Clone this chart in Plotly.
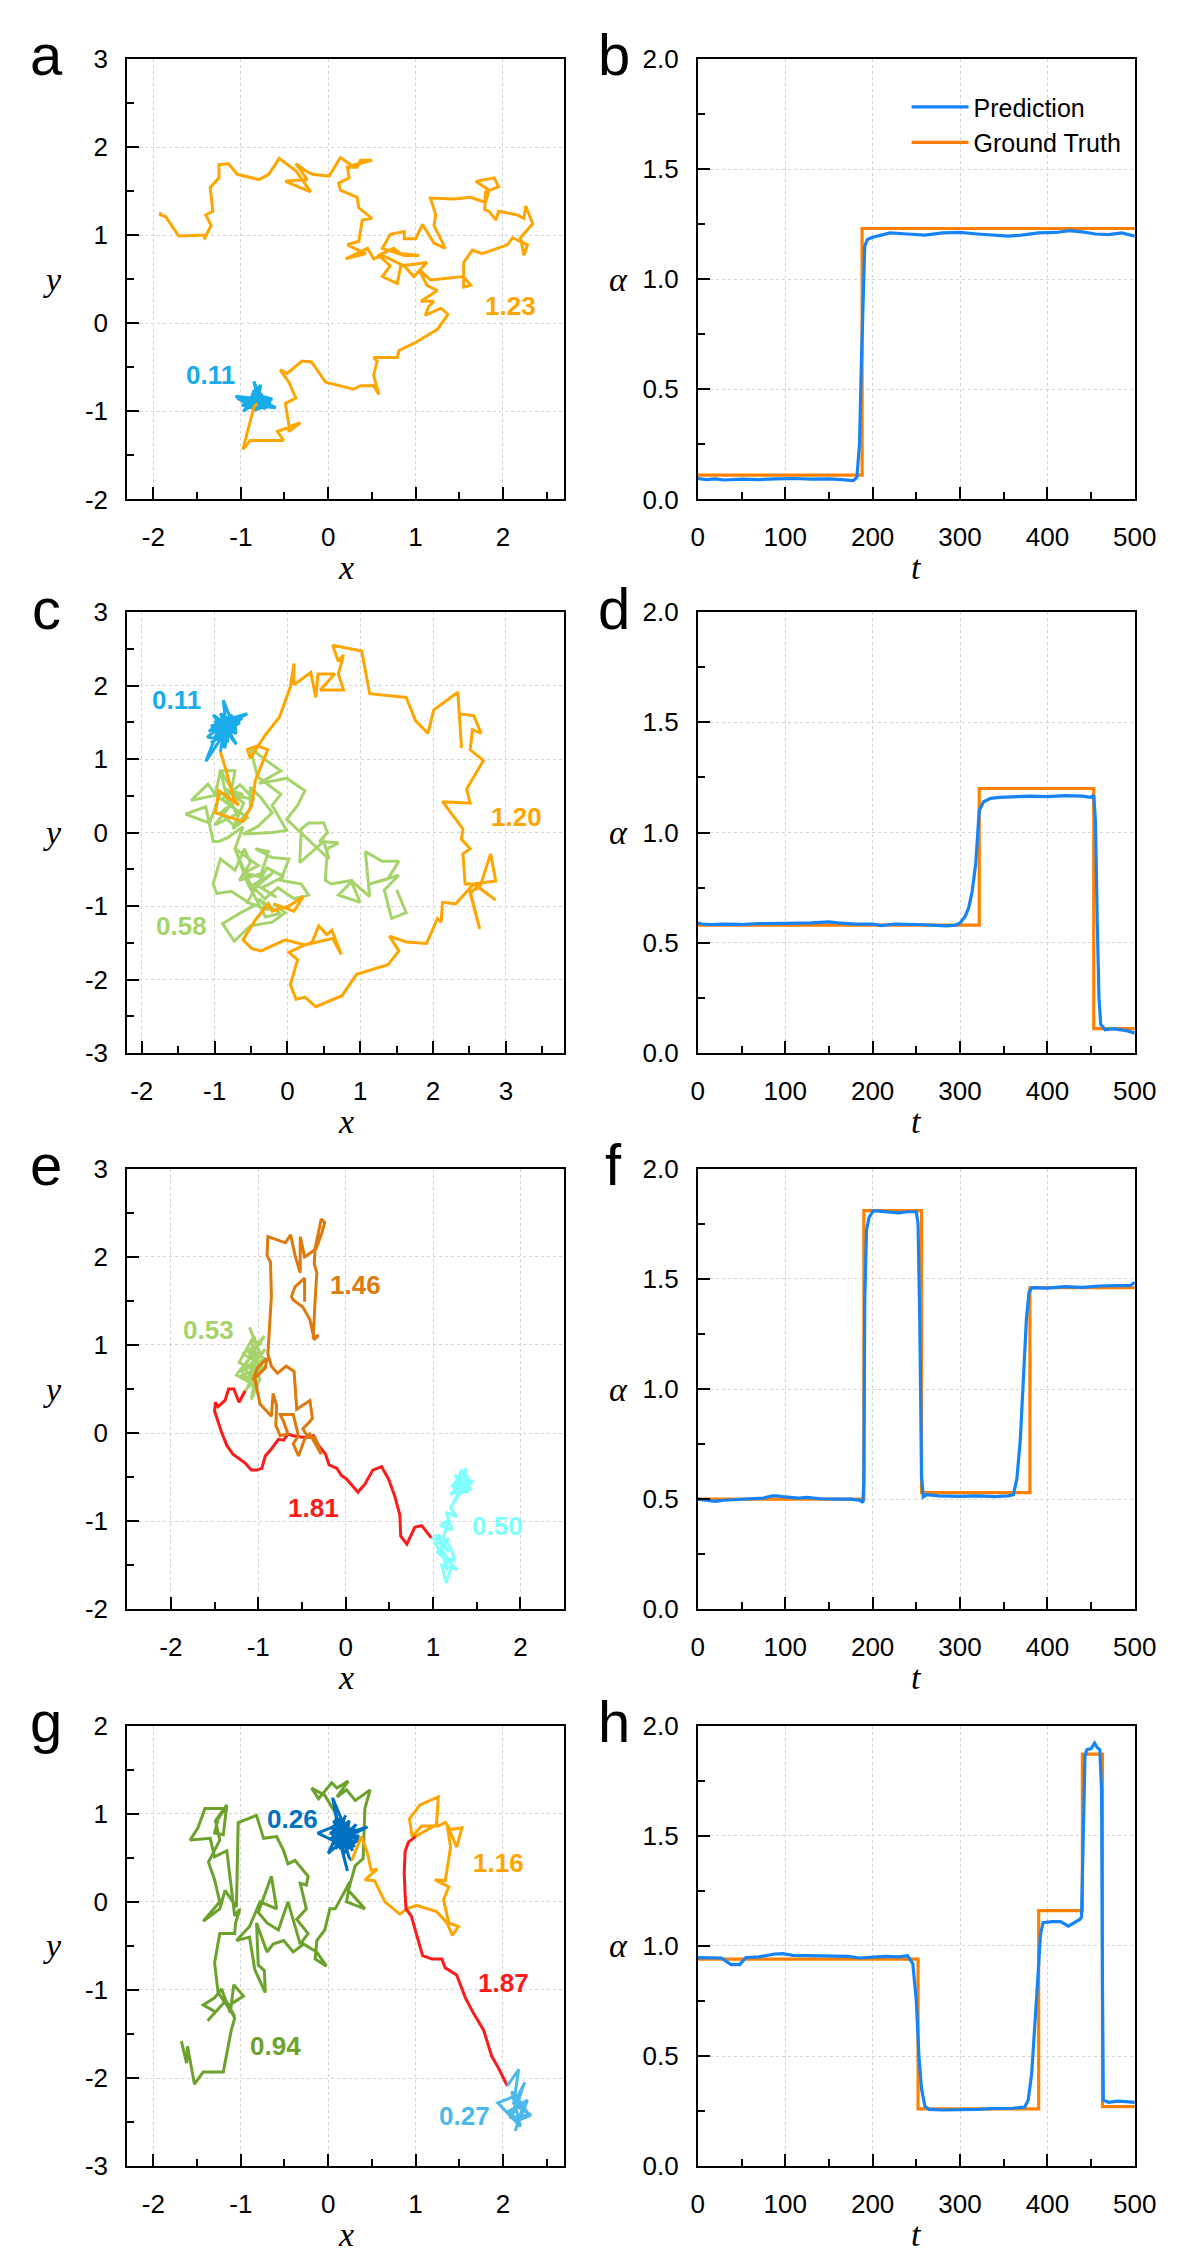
import plotly.graph_objects as go

# ---------------- data ----------------
# panel a  (alpha 0.11 -> 1.23)
a_seg_011 = [(-0.80, -0.90), (-0.92, -0.85), (-0.78, -0.95), (-0.85, -0.66), (-0.75, -0.92),
             (-1.04, -0.85), (-0.82, -0.98), (-0.70, -0.85), (-0.88, -0.93), (-0.60, -0.96),
             (-0.84, -0.82), (-0.97, -1.00), (-0.80, -0.88), (-0.72, -0.98), (-0.86, -0.76),
             (-0.66, -0.90), (-0.90, -0.96), (-0.78, -0.84), (-0.94, -0.90), (-0.76, -0.80),
             (-0.86, -0.99), (-0.68, -0.93), (-0.83, -0.72), (-0.80, -0.97), (-0.99, -0.93),
             (-0.74, -0.88), (-0.88, -0.80), (-0.64, -0.86), (-0.84, -0.94), (-1.06, -0.83),
             (-0.79, -0.86), (-0.73, -0.95), (-0.91, -0.88), (-0.77, -0.70), (-0.82, -0.92),
             (-0.81, -0.91)]
a_seg_123 = [(-0.81, -0.91), (-0.85, -0.95), (-0.975, -1.43), (-0.89, -1.33), (-0.51, -1.33),
             (-0.58, -1.23), (-0.32, -1.13), (-0.45, -1.23), (-0.45, -1.15), (-0.49, -0.91),
             (-0.37, -0.85), (-0.45, -0.67), (-0.55, -0.53), (-0.47, -0.57), (-0.30, -0.43),
             (-0.19, -0.44), (-0.03, -0.67), (0.29, -0.75), (0.37, -0.71), (0.52, -0.71),
             (0.58, -0.81), (0.52, -0.59), (0.56, -0.43), (0.52, -0.39), (0.62, -0.39),
             (0.79, -0.39), (0.81, -0.31), (0.98, -0.23), (1.25, -0.07), (1.37, 0.10),
             (1.29, 0.17), (1.11, 0.09), (1.15, 0.19), (1.21, 0.25), (1.06, 0.25),
             (1.25, 0.37), (1.13, 0.43), (1.04, 0.61), (1.17, 0.49), (1.55, 0.53),
             (1.63, 0.43), (1.55, 0.41), (1.55, 0.69), (1.65, 0.83), (1.76, 0.79),
             (2.05, 0.89), (2.11, 0.97), (2.28, 0.89), (2.24, 0.77), (2.20, 0.97),
             (2.34, 1.13), (2.26, 1.33), (2.24, 1.19), (2.16, 1.23), (1.95, 1.27),
             (1.92, 1.17), (1.84, 1.27), (1.79, 1.29), (1.80, 1.49), (1.95, 1.55),
             (1.90, 1.65), (1.69, 1.61), (1.84, 1.51), (1.80, 1.37), (1.63, 1.43),
             (1.44, 1.41), (1.17, 1.42), (1.23, 1.23), (1.21, 1.11), (1.34, 0.85),
             (1.21, 0.91), (1.08, 1.12), (1.00, 0.96), (0.87, 0.96), (0.87, 1.04),
             (0.71, 1.01), (0.62, 0.85), (0.87, 0.77), (1.04, 0.77), (0.83, 0.79),
             (0.75, 0.85), (0.58, 0.77), (0.71, 0.65), (0.62, 0.53), (0.79, 0.45),
             (0.83, 0.65), (1.13, 0.69), (0.98, 0.53), (0.87, 0.65), (0.62, 0.77),
             (0.52, 0.73), (0.45, 0.85), (0.20, 0.73), (0.43, 0.79), (0.22, 0.89),
             (0.35, 0.93), (0.39, 1.17), (0.50, 1.19), (0.35, 1.31), (0.33, 1.43),
             (0.14, 1.51), (0.12, 1.59), (0.24, 1.65), (0.22, 1.77), (0.33, 1.77),
             (0.37, 1.85), (0.50, 1.85), (0.27, 1.79), (0.14, 1.88), (0.01, 1.67),
             (-0.18, 1.69), (-0.26, 1.73), (-0.37, 1.81), (-0.24, 1.63), (-0.49, 1.61),
             (-0.20, 1.49), (-0.37, 1.73), (-0.56, 1.87), (-0.68, 1.69), (-0.79, 1.63),
             (-1.04, 1.69), (-1.14, 1.81), (-1.25, 1.80), (-1.25, 1.65), (-1.35, 1.54),
             (-1.32, 1.27), (-1.40, 1.23), (-1.34, 1.11), (-1.42, 0.95), (-1.40, 1.00),
             (-1.71, 0.99), (-1.86, 1.21), (-1.92, 1.23), (-1.92, 1.26)]

# panel c  (0.58 -> 1.20 -> 0.11)
c_seg_058 = [(1.50, -0.78), (1.63, -1.09), (1.43, -1.17), (1.33, -0.78), (1.53, -0.58),
             (1.13, -0.70), (1.38, -0.63), (1.53, -0.39), (1.30, -0.39), (1.07, -0.26),
             (1.10, -0.61), (1.13, -0.87), (0.87, -0.65), (1.00, -0.95), (0.70, -0.85),
             (0.90, -0.65), (0.60, -0.70), (0.52, -0.65), (0.55, -0.22), (0.70, -0.14),
             (0.44, -0.12), (0.55, 0.00), (0.50, 0.13), (0.29, 0.13), (0.19, 0.05),
             (0.17, -0.41), (0.50, -0.12), (0.57, -0.36), (-0.01, 0.18), (0.14, 0.37),
             (0.24, 0.57), (-0.01, 0.74), (-0.16, 0.71), (-0.39, 0.67), (-0.09, 0.84),
             (-0.26, 0.96), (-0.51, 1.15), (-0.41, 0.76), (-0.09, 0.52), (-0.21, 0.37),
             (-0.01, 0.03), (-0.21, 0.00), (-0.61, -0.02), (-0.41, 0.08), (-0.21, 0.27),
             (-0.36, 0.47), (-0.51, 0.62), (-0.51, 0.32), (-0.72, 0.08), (-0.92, 0.27),
             (-0.61, 0.52), (-0.77, 0.57), (-0.72, 0.84), (-0.92, 0.84), (-0.80, 0.35),
             (-1.00, 0.10), (-0.70, 0.25), (-0.85, 0.60), (-0.60, 0.40), (-0.75, 0.05),
             (-0.55, 0.20), (-0.90, 0.45), (-0.65, 0.65), (-0.45, 0.45), (-0.70, 0.50),
             (-0.92, 0.84), (-0.99, 0.52),
             (-1.09, 0.66), (-1.32, 0.44), (-0.92, 0.52), (-1.07, 0.13), (-1.40, 0.25),
             (-1.12, 0.35), (-1.02, -0.12), (-0.94, -0.12), (-0.82, -0.07), (-0.61, 0.08),
             (-0.72, -0.22), (-0.40, -0.45), (-0.60, -0.55), (-0.30, -0.62), (-0.50, -0.80),
             (-0.20, -0.55), (-0.45, -0.70), (-0.15, -0.88), (-0.35, -0.75), (-0.05, -0.60),
             (-0.28, -0.48), (-0.55, -0.95), (-0.25, -1.05), (-0.40, -0.90), (-0.10, -1.10),
             (-0.30, -1.15), (-0.55, -0.68), (-0.72, -0.22),
             (-0.51, -0.70), (-0.31, -0.90), (-0.13, -0.75), (0.09, -0.90),
             (0.29, -0.85), (0.19, -0.70), (-0.09, -0.65), (0.02, -0.36), (-0.21, -0.34),
             (-0.44, -0.22), (-0.26, -0.26), (-0.36, -0.56), (-0.66, -0.65), (-0.51, -0.41),
             (-0.59, -0.22), (-0.72, -0.51), (-0.92, -0.36), (-1.02, -0.70), (-0.97, -0.83),
             (-0.77, -0.80), (-0.46, -1.00), (-0.64, -1.09), (-0.89, -1.24), (-0.73, -1.48),
             (-0.51, -1.27), (-0.21, -1.22), (-0.03, -1.09), (-0.19, -0.97)]
c_seg_120 = [(-0.19, -0.97), (0.09, -1.07), (0.22, -0.87), (0.02, -1.00), (-0.21, -1.07),
             (-0.26, -0.97), (-0.44, -1.19), (-0.61, -1.46), (-0.49, -1.58), (-0.36, -1.61),
             (-0.03, -1.46), (0.24, -1.53), (0.34, -1.49), (0.43, -1.27), (0.54, -1.39),
             (0.61, -1.33), (0.74, -1.66), (0.62, -1.44), (0.24, -1.53), (0.02, -1.63),
             (0.14, -1.73), (0.04, -2.07), (0.12, -2.27), (0.24, -2.24), (0.39, -2.37),
             (0.75, -2.22), (0.95, -1.93), (1.38, -1.80), (1.53, -1.61), (1.40, -1.41),
             (1.63, -1.49), (1.91, -1.51), (2.06, -1.17), (2.11, -1.22), (2.13, -0.95),
             (2.31, -0.97), (2.56, -0.70), (2.86, -0.66), (2.79, -0.29), (2.64, -0.75),
             (2.51, -0.80), (2.64, -1.31), (2.51, -0.83), (2.61, -0.73), (2.86, -0.92),
             (2.56, -0.70), (2.44, -0.70), (2.41, -0.29), (2.51, -0.22), (2.39, -0.09),
             (2.41, 0.05), (2.13, 0.42), (2.51, 0.40), (2.46, 0.59), (2.69, 0.98),
             (2.51, 1.13), (2.54, 1.40), (2.66, 1.35), (2.56, 1.59), (2.36, 1.62),
             (2.39, 1.15), (2.34, 1.91), (2.01, 1.67), (1.93, 1.35), (1.76, 1.52),
             (1.63, 1.84), (1.13, 1.89), (1.02, 2.47), (0.62, 2.55), (0.70, 2.33),
             (0.77, 2.42), (0.70, 2.16), (0.77, 1.94), (0.45, 1.94), (0.65, 2.16),
             (0.42, 2.16), (0.39, 1.84), (0.32, 2.18), (0.09, 2.01), (0.09, 2.30),
             (0.04, 1.98), (-0.11, 1.57), (-0.31, 1.32), (-0.37, 1.23), (-0.51, 1.01),
             (-0.55, 1.13), (-0.41, 1.18), (-0.27, 1.13), (-0.44, 0.71), (-0.49, 0.37),
             (-0.61, 0.15), (-0.99, 0.27), (-0.94, 0.57), (-0.67, 0.37), (-0.74, 0.47),
             (-0.84, 0.84), (-0.92, 1.10)]
c_seg_011 = [(-0.92, 1.10), (-0.85, 1.50), (-1.05, 1.45), (-0.70, 1.35), (-0.88, 1.80),
             (-0.82, 1.25), (-1.10, 1.30), (-0.78, 1.55), (-0.55, 1.62), (-0.95, 1.40),
             (-1.12, 0.97), (-0.80, 1.45), (-1.02, 1.60), (-0.70, 1.20), (-0.90, 1.55),
             (-0.75, 1.38), (-0.97, 1.28), (-0.84, 1.45), (-0.65, 1.50), (-0.88, 1.35),
             (-1.00, 1.52), (-0.78, 1.30), (-0.92, 1.62), (-0.72, 1.48), (-1.05, 1.22),
             (-0.83, 1.38), (-0.62, 1.56), (-0.96, 1.47), (-0.86, 1.15), (-0.76, 1.60),
             (-1.08, 1.38), (-0.81, 1.50), (-0.93, 1.25), (-0.70, 1.42), (-0.88, 1.48)]

# panel e  (0.50 -> 1.81 -> 0.53 -> 1.46)
e_seg_050 = [(1.35, -0.45), (1.42, -0.58), (1.28, -0.52), (1.40, -0.68), (1.22, -0.60),
             (1.38, -0.40), (1.30, -0.70), (1.45, -0.55), (1.25, -0.48), (1.36, -0.62),
             (1.20, -0.70), (1.33, -0.52), (1.44, -0.64), (1.28, -0.60), (1.32, -0.42),
             (1.40, -0.50), (1.25, -0.78), (1.32, -0.62), (1.20, -0.85), (1.27, -0.95),
             (1.15, -0.90), (1.22, -1.10), (1.08, -1.05), (1.18, -0.98), (1.12, -1.18),
             (1.20, -1.30), (1.25, -1.45), (1.12, -1.40), (1.16, -1.56), (1.10, -1.32),
             (1.22, -1.50), (1.15, -1.70), (1.10, -1.50), (1.28, -1.55), (1.05, -1.35),
             (1.18, -1.20), (1.02, -1.25), (1.14, -1.44), (1.06, -1.15), (1.18, -1.35),
             (1.02, -1.15), (1.12, -1.25), (0.98, -1.19)]
e_seg_181 = [(0.98, -1.19), (0.87, -1.05), (0.79, -1.07), (0.77, -1.11), (0.70, -1.26),
             (0.63, -1.17), (0.62, -0.93), (0.56, -0.71), (0.49, -0.52), (0.41, -0.38),
             (0.31, -0.42), (0.22, -0.58), (0.14, -0.67), (0.01, -0.52), (-0.05, -0.48),
             (-0.10, -0.40), (-0.19, -0.36), (-0.23, -0.24), (-0.31, -0.14), (-0.37, -0.03),
             (-0.47, -0.05), (-0.60, -0.03), (-0.66, -0.01), (-0.71, -0.08), (-0.77, -0.07),
             (-0.85, -0.18), (-0.92, -0.26), (-0.96, -0.40), (-1.02, -0.42), (-1.08, -0.42),
             (-1.15, -0.34), (-1.29, -0.24), (-1.36, -0.14), (-1.42, 0.01), (-1.50, 0.25),
             (-1.49, 0.35), (-1.46, 0.30), (-1.38, 0.37), (-1.34, 0.50), (-1.28, 0.50),
             (-1.22, 0.35), (-1.15, 0.48)]
e_seg_053 = [(-1.15, 0.48), (-1.05, 0.60), (-1.20, 0.65), (-0.95, 0.75), (-1.12, 0.95),
             (-1.00, 0.70), (-1.22, 0.80), (-1.05, 1.10), (-0.98, 0.90), (-1.10, 1.20),
             (-1.02, 1.00), (-0.93, 1.10), (-1.10, 0.85), (-1.25, 0.66), (-1.05, 0.55),
             (-1.08, 0.38), (-0.98, 0.62), (-1.08, 0.75), (-0.92, 0.95), (-1.15, 0.72),
             (-1.00, 0.58), (-1.12, 0.62), (-1.02, 0.82), (-1.18, 0.90), (-0.96, 1.02),
             (-1.08, 1.05), (-1.00, 0.78), (-1.20, 0.72), (-1.04, 0.50), (-1.10, 0.68),
             (-0.94, 0.85), (-1.06, 0.92), (-1.14, 0.78), (-1.02, 0.66), (-1.12, 0.52),
             (-1.00, 0.88), (-1.08, 0.98), (-0.97, 0.72), (-1.16, 0.60), (-1.04, 0.70),
             (-1.06, 0.60)]
e_seg_146 = [(-1.06, 0.60), (-1.01, 0.74), (-0.90, 0.85), (-0.92, 0.74), (-1.04, 0.62),
             (-0.98, 0.33), (-0.85, 0.19), (-0.83, 0.45), (-0.79, 0.31), (-0.80, 0.09),
             (-0.75, -0.03), (-0.66, -0.01), (-0.71, 0.13), (-0.75, 0.21), (-0.60, 0.21),
             (-0.54, -0.03), (-0.60, -0.12), (-0.54, -0.26), (-0.47, -0.07), (-0.41, -0.01),
             (-0.28, -0.24), (-0.35, -0.05), (-0.43, -0.05), (-0.49, 0.05), (-0.41, 0.13),
             (-0.38, 0.17), (-0.41, 0.37), (-0.56, 0.27), (-0.59, 0.70), (-0.68, 0.76),
             (-0.78, 0.68), (-0.85, 0.76), (-0.89, 0.90), (-0.87, 1.19), (-0.85, 1.55),
             (-0.86, 1.94), (-0.90, 2.02), (-0.89, 2.23), (-0.69, 2.16), (-0.63, 2.25),
             (-0.58, 2.02), (-0.52, 1.82), (-0.52, 2.23), (-0.47, 2.00), (-0.34, 2.09),
             (-0.27, 2.28), (-0.24, 2.39), (-0.28, 2.43), (-0.35, 2.09), (-0.36, 1.92),
             (-0.33, 1.82), (-0.35, 1.51), (-0.37, 1.09), (-0.31, 1.11), (-0.36, 1.06),
             (-0.41, 1.29), (-0.49, 1.43), (-0.60, 1.51), (-0.62, 1.55), (-0.58, 1.66),
             (-0.47, 1.76), (-0.47, 1.49)]

# panel g  (0.94 -> 0.26 -> 1.16 -> 1.87 -> 0.27)
g_seg_094 = [(-1.68, -1.58), (-1.62, -1.83), (-1.61, -1.64), (-1.53, -2.07), (-1.43, -1.93),
             (-1.20, -1.93), (-1.11, -1.46), (-1.07, -1.32), (-1.14, -1.18), (-0.97, -1.07),
             (-1.08, -0.94), (-1.12, -1.26), (-1.22, -0.99), (-1.30, -1.09), (-1.43, -1.17),
             (-1.29, -1.25), (-1.38, -1.35), (-1.17, -1.12), (-1.07, -1.30), (-1.18, -1.14),
             (-1.26, -1.03), (-1.30, -0.69), (-1.24, -0.36), (-1.07, -0.36), (-1.06, -0.24),
             (-1.01, -0.08), (-1.07, -0.16), (-1.16, 0.58), (-1.30, 0.51), (-1.35, 0.72),
             (-1.58, 0.70), (-1.49, 0.84), (-1.41, 1.06), (-1.18, 1.06), (-1.26, 0.94),
             (-1.30, 0.78), (-1.20, 0.76), (-1.16, 1.10), (-1.29, 0.92), (-1.24, 0.70),
             (-1.37, 0.45), (-1.30, 0.25), (-1.24, 0.00), (-1.43, -0.22), (-1.24, -0.08),
             (-1.18, 0.13), (-1.05, -0.06), (-1.03, 0.90), (-0.82, 0.98), (-0.74, 0.72),
             (-0.59, 0.74), (-0.51, 0.58), (-0.46, 0.43), (-0.38, 0.47), (-0.23, 0.29),
             (-0.25, 0.19), (-0.32, 0.21), (-0.25, -0.08), (-0.36, -0.20), (-0.23, -0.36),
             (-0.32, -0.48), (-0.46, 0.00), (-0.57, -0.32), (-0.70, -0.24), (-0.80, -0.12),
             (-0.65, 0.29), (-0.59, -0.08), (-0.78, 0.00), (-0.90, -0.28), (-1.05, -0.44),
             (-0.90, -0.40), (-0.84, -0.77), (-0.72, -1.03), (-0.73, -0.78), (-0.80, -0.72),
             (-0.82, -0.24), (-0.70, -0.57), (-0.63, -0.48), (-0.51, -0.44), (-0.40, -0.57),
             (-0.28, -0.48), (-0.13, -0.57), (-0.02, -0.73), (-0.15, -0.65), (-0.13, -0.44),
             (-0.04, -0.32), (0.02, -0.08), (0.08, -0.08), (0.21, 0.15), (0.25, 0.23),
             (0.21, 0.00), (0.42, -0.08), (0.23, 0.13), (0.31, 0.41), (0.40, 0.49),
             (0.42, 1.06), (0.48, 1.27), (0.31, 1.15), (0.21, 1.27), (0.10, 1.19),
             (0.23, 1.37), (0.10, 1.29), (0.04, 1.35), (-0.11, 1.17), (-0.19, 1.29),
             (-0.04, 1.21), (0.10, 0.98), (0.06, 0.82), (0.10, 0.74)]
g_seg_026 = [(0.10, 0.74), (0.20, 0.85), (0.02, 0.78), (0.25, 0.70), (0.05, 1.18),
             (0.15, 0.65), (-0.12, 0.78), (0.18, 0.90), (0.30, 0.62), (0.08, 0.88),
             (0.22, 0.35), (0.12, 0.75), (0.45, 0.85), (0.05, 0.65), (0.20, 0.98),
             (0.00, 0.55), (0.28, 0.80), (0.10, 0.95), (0.18, 0.55), (0.35, 0.75),
             (0.08, 0.70), (0.16, 0.82), (0.26, 0.66), (0.04, 0.86), (0.14, 0.60),
             (0.32, 0.88), (0.12, 0.68), (0.22, 0.78), (0.06, 0.92), (0.28, 0.58),
             (0.14, 0.84), (0.02, 0.70), (0.24, 0.92), (0.18, 0.62), (0.36, 0.70),
             (0.10, 0.80), (0.20, 0.72), (0.08, 0.60), (0.30, 0.82), (0.16, 0.76),
             (0.24, 0.50), (0.27, 0.47)]
g_seg_116 = [(0.27, 0.47), (0.38, 0.74), (0.45, 0.55), (0.49, 0.36), (0.56, 0.37),
             (0.42, 0.25), (0.53, 0.24), (0.65, 0.00), (0.82, -0.14), (0.90, -0.08),
             (1.01, -0.04), (1.24, -0.11), (1.36, -0.24), (1.42, -0.38), (1.49, -0.28),
             (1.38, -0.24), (1.32, 0.02), (1.38, 0.17), (1.22, 0.25), (1.34, 0.24),
             (1.40, 0.62), (1.36, 0.88), (1.47, 0.62), (1.53, 0.84), (1.40, 0.82),
             (1.34, 0.90), (1.26, 0.86), (1.07, 0.86), (0.96, 0.74), (0.93, 0.94),
             (1.05, 1.10), (1.26, 1.19), (1.24, 0.88), (1.00, 0.74)]
g_seg_187 = [(1.00, 0.74), (0.92, 0.68), (0.88, 0.57), (0.87, 0.33), (0.88, 0.09),
             (0.89, -0.08), (0.95, -0.16), (1.02, -0.40), (1.08, -0.61), (1.19, -0.65),
             (1.30, -0.65), (1.34, -0.75), (1.47, -0.83), (1.57, -1.09), (1.66, -1.26),
             (1.78, -1.46), (1.82, -1.58), (1.87, -1.75), (1.95, -1.89), (2.05, -2.09)]
g_seg_027 = [(2.05, -2.09), (2.18, -1.90), (2.12, -2.30), (2.25, -2.05), (2.08, -2.45),
             (2.30, -2.42), (2.15, -2.20), (1.94, -2.28), (2.20, -2.55), (2.10, -2.15),
             (2.22, -2.35), (2.14, -2.60), (2.28, -2.25), (2.06, -2.38), (2.18, -2.48),
             (2.32, -2.42), (2.16, -2.32), (2.22, -2.12), (2.10, -2.42), (2.20, -2.28)]

# alpha(t) panels: ground truth steps and network prediction
b_gt_t = [0, 188, 500]
b_gt_a = [0.11, 1.23, 1.23]
b_pred_t = [0, 10, 20, 30, 50, 70, 90, 110, 130, 150, 165, 178, 182, 185, 187, 189, 191, 194,
            200, 210, 220, 240, 260, 280, 300, 320, 340, 355, 370, 390, 410, 425, 440, 455,
            470, 485, 500]
b_pred_a = [0.095, 0.09, 0.093, 0.088, 0.092, 0.09, 0.093, 0.095, 0.092, 0.093, 0.09, 0.085,
            0.10, 0.25, 0.60, 0.95, 1.15, 1.18, 1.19, 1.20, 1.21, 1.205, 1.20, 1.21, 1.212,
            1.205, 1.198, 1.195, 1.20, 1.21, 1.212, 1.22, 1.215, 1.205, 1.202, 1.21, 1.195]

d_gt_t = [0, 322, 453, 500]
d_gt_a = [0.58, 1.20, 0.11, 0.11]
d_pred_t = [0, 5, 15, 30, 50, 70, 100, 130, 150, 160, 180, 200, 210, 225, 250, 270, 285, 295,
            300, 306, 310, 314, 318, 320, 322, 327, 335, 345, 360, 380, 400, 420, 440, 450,
            453, 455, 457, 459, 461, 466, 475, 485, 492, 500]
d_pred_a = [0.59, 0.585, 0.583, 0.585, 0.583, 0.587, 0.588, 0.59, 0.595, 0.59, 0.585, 0.585,
            0.578, 0.585, 0.583, 0.578, 0.577, 0.58, 0.59, 0.62, 0.66, 0.735, 0.86, 0.98, 1.10,
            1.14, 1.155, 1.16, 1.162, 1.165, 1.163, 1.168, 1.165, 1.16, 1.17, 1.05, 0.60, 0.25,
            0.13, 0.105, 0.11, 0.105, 0.10, 0.09]

f_gt_t = [0, 190, 256, 380, 500]
f_gt_a = [0.50, 1.81, 0.53, 1.46, 1.46]
f_pred_t = [0, 10, 20, 30, 45, 60, 75, 85, 90, 100, 115, 125, 140, 160, 175, 185, 189, 190,
            191, 193, 196, 201, 215, 230, 240, 250, 252, 254, 256, 258, 262, 275, 300, 320,
            340, 355, 361, 365, 369, 373, 376, 379, 382, 400, 420, 440, 460, 480, 495, 500]
f_pred_a = [0.50, 0.495, 0.49, 0.495, 0.498, 0.502, 0.505, 0.515, 0.515, 0.51, 0.505, 0.508,
            0.502, 0.50, 0.50, 0.495, 0.485, 0.60, 1.40, 1.72, 1.78, 1.81, 1.805, 1.80, 1.805,
            1.805, 1.75, 1.30, 0.60, 0.51, 0.52, 0.515, 0.513, 0.515, 0.512, 0.515, 0.52, 0.59,
            0.77, 1.05, 1.32, 1.44, 1.46, 1.458, 1.465, 1.462, 1.468, 1.47, 1.47, 1.485]

h_gt_t = [0, 252, 390, 440, 463, 500]
h_gt_a = [0.94, 0.26, 1.16, 1.87, 0.27, 0.27]
h_pred_t = [0, 15, 27, 38, 48, 55, 70, 88, 97, 109, 130, 150, 172, 185, 200, 214, 230, 240,
            246, 250, 253, 256, 260, 265, 280, 298, 320, 340, 360, 374, 378, 382, 386, 389,
            392, 395, 405, 415, 424, 432, 437, 439, 441, 443, 445, 450, 454, 457, 460, 462,
            463, 464, 470, 480, 490, 500]
h_pred_a = [0.947, 0.945, 0.945, 0.915, 0.915, 0.947, 0.95, 0.963, 0.965, 0.957, 0.955, 0.955,
            0.952, 0.945, 0.948, 0.952, 0.95, 0.955, 0.92, 0.75, 0.50, 0.35, 0.27, 0.258, 0.255,
            0.255, 0.258, 0.262, 0.263, 0.268, 0.30, 0.42, 0.65, 0.85, 1.05, 1.105, 1.11,
            1.11, 1.09, 1.11, 1.12, 1.13, 1.60, 1.86, 1.89, 1.895, 1.92, 1.90, 1.89, 1.70,
            0.80, 0.30, 0.29, 0.295, 0.293, 0.29]

# segment labels (text, x, y) per trajectory panel
a_labels = [("0.11", -1.345, -0.59), ("1.23", 2.09, 0.19)]
c_labels = [("0.11", -1.52, 1.81), ("1.20", 3.14, 0.215), ("0.58", -1.46, -1.275)]
e_labels = [("1.46", 0.116, 1.677), ("0.53", -1.567, 1.168), ("1.81", -0.368, -0.848),
            ("0.50", 1.735, -1.051)]
g_labels = [("0.26", -0.413, 0.941), ("1.16", 1.95, 0.445), ("1.87", 2.004, -0.923),
            ("0.94", -0.598, -1.632), ("0.27", 1.563, -2.43)]

# axis ranges and tick labels
a_xrange, a_yrange = [-2.3, 2.7], [-2, 3]
c_xrange, c_yrange = [-2.2, 3.8], [-3, 3]
e_xrange, e_yrange = [-2.5, 2.5], [-2, 3]
g_xrange, g_yrange = [-2.3, 2.7], [-3, 2]
pos_ticks = [-3, -2, -1, 0, 1, 2, 3]
pos_tick_text = ["-3", "-2", "-1", "0", "1", "2", "3"]
t_range, alpha_range = [0, 500], [0, 2]
panel_letters = ["a", "b", "c", "d", "e", "f", "g", "h"]

# colours
C_ORANGE = "#FFA500"
C_SKY = "#1AABEB"
C_LGREEN = "#A6D46B"
C_DORANGE = "#DE7A0C"
C_RED = "#FF1A1A"
C_CYAN = "#80FFFF"
C_OLIVE = "#6CA12B"
C_DBLUE = "#0070C0"
C_LBLUE = "#4DB9EA"
C_PRED = "#1684F6"
C_GT = "#FF8000"

# ---------------- layout geometry (pixels) ----------------
W, H = 1181, 2263
COLS = [(115, 563), (700, 1148)]
ROWS = [(36.4, 482.8), (597.1, 1043.8), (1161.2, 1607.6), (1725.4, 2172.0)]

TICK_FONT = dict(family="Liberation Sans, Arial", size=26, color="black")
TITLE_FONT = dict(family="Liberation Serif, Times New Roman", size=34, color="black")

fig = go.Figure()


def px_x(v):
    return v / W


def px_y(v):
    return 1 - v / H


def axis_style(domain, rng, dtick, minor_dtick, anchor, xaxis=True, **extra):
    d = dict(domain=domain, range=rng, anchor=anchor, showline=True, linecolor="black",
             linewidth=1.8, mirror=True, ticks="inside", ticklen=12, tickwidth=1.5,
             tickcolor="black", showgrid=True, gridcolor="#D4D4D4", griddash="3px,3px",
             gridwidth=1, zeroline=False, tickfont=TICK_FONT, dtick=dtick, tick0=0,
             minor=dict(dtick=minor_dtick, tick0=0, ticks="inside", ticklen=7, tickwidth=1.5,
                        tickcolor="black", showgrid=False),
             ticklabelstandoff=14 if xaxis else 12)
    d.update(extra)
    return d


def add_traj(idx, segments, colors):
    xa = "x" if idx == 1 else f"x{idx}"
    ya = "y" if idx == 1 else f"y{idx}"
    for seg, col in zip(segments, colors):
        xs, ys = zip(*seg)
        fig.add_trace(go.Scatter(x=list(xs), y=list(ys), mode="lines", xaxis=xa, yaxis=ya,
                                 line=dict(color=col, width=3), showlegend=False,
                                 hoverinfo="skip"))


def add_alpha(idx, gt_t, gt_a, pr_t, pr_a, legend):
    xa, ya = f"x{idx}", f"y{idx}"
    fig.add_trace(go.Scatter(x=gt_t, y=gt_a, mode="lines", line_shape="hv", xaxis=xa, yaxis=ya,
                             line=dict(color=C_GT, width=3.2), name="Ground Truth",
                             showlegend=legend, legendrank=2))
    fig.add_trace(go.Scatter(x=pr_t, y=pr_a, mode="lines", xaxis=xa, yaxis=ya,
                             line=dict(color=C_PRED, width=3.2), name="Prediction",
                             showlegend=legend, legendrank=1))


add_traj(1, [a_seg_011, a_seg_123], [C_SKY, C_ORANGE])
add_alpha(2, b_gt_t, b_gt_a, b_pred_t, b_pred_a, True)
add_traj(3, [c_seg_058, c_seg_120, c_seg_011], [C_LGREEN, C_ORANGE, C_SKY])
add_alpha(4, d_gt_t, d_gt_a, d_pred_t, d_pred_a, False)
add_traj(5, [e_seg_050, e_seg_181, e_seg_053, e_seg_146], [C_CYAN, C_RED, C_LGREEN, C_DORANGE])
add_alpha(6, f_gt_t, f_gt_a, f_pred_t, f_pred_a, False)
add_traj(7, [g_seg_094, g_seg_026, g_seg_116, g_seg_187, g_seg_027],
         [C_OLIVE, C_DBLUE, C_ORANGE, C_RED, C_LBLUE])
add_alpha(8, h_gt_t, h_gt_a, h_pred_t, h_pred_a, False)

layout = {}
traj_ranges = [(a_xrange, a_yrange), (c_xrange, c_yrange), (e_xrange, e_yrange),
               (g_xrange, g_yrange)]
annotations = []
for r, ((top, bot), (xr, yr)) in enumerate(zip(ROWS, traj_ranges)):
    ydom = [px_y(bot), px_y(top)]
    li, ri = 2 * r + 1, 2 * r + 2
    lk = "" if li == 1 else str(li)
    layout[f"xaxis{lk}"] = axis_style([px_x(COLS[0][0]), px_x(COLS[0][1])], xr, None, 0.5,
                                      f"y{lk}", True, tickmode="array", tickvals=pos_ticks,
                                      ticktext=pos_tick_text)
    layout[f"yaxis{lk}"] = axis_style(ydom, yr, None, 0.5, f"x{lk}", False, tickmode="array",
                                      tickvals=pos_ticks, ticktext=pos_tick_text)
    layout[f"xaxis{ri}"] = axis_style([px_x(COLS[1][0]), px_x(COLS[1][1])], t_range, 100, 50,
                                      f"y{ri}", True)
    layout[f"yaxis{ri}"] = axis_style(ydom, alpha_range, 0.5, 0.25, f"x{ri}", False,
                                      tickformat=".1f")
    mid = (top + bot) / 2
    # axis titles
    for txt, cx, cy in [("<i>x</i>", (COLS[0][0] + COLS[0][1]) / 2, bot + 69),
                        ("<i>y</i>", 38, mid),
                        ("<i>t</i>", (COLS[1][0] + COLS[1][1]) / 2, bot + 69),
                        ("<i>α</i>", 619, mid)]:
        annotations.append(dict(text=txt, x=px_x(cx), y=px_y(cy), xref="paper", yref="paper",
                                xanchor="center", yanchor="middle", showarrow=False,
                                font=TITLE_FONT))
    # panel letters
    for k, lx in enumerate([32, 614]):
        annotations.append(dict(text=panel_letters[2 * r + k], x=px_x(lx), y=px_y(top - 4),
                                xref="paper", yref="paper", xanchor="center",
                                yanchor="middle", showarrow=False,
                                font=dict(family="Liberation Sans, Arial", size=58,
                                          color="black")))

label_sets = [(1, a_labels, [C_SKY, C_ORANGE]),
              (3, c_labels, [C_SKY, C_ORANGE, C_LGREEN]),
              (5, e_labels, [C_DORANGE, C_LGREEN, C_RED, C_CYAN]),
              (7, g_labels, [C_DBLUE, C_ORANGE, C_RED, C_OLIVE, C_LBLUE])]
for idx, labels, cols in label_sets:
    k = "" if idx == 1 else str(idx)
    for (txt, lx, ly), col in zip(labels, cols):
        annotations.append(dict(text=f"<b>{txt}</b>", x=lx, y=ly, xref=f"x{k}", yref=f"y{k}",
                                showarrow=False, xanchor="center", yanchor="middle",
                                font=dict(family="Liberation Sans, Arial", size=26, color=col)))

fig.update_layout(
    **layout,
    width=W, height=H,
    margin=dict(l=0, r=0, t=0, b=0),
    paper_bgcolor="white", plot_bgcolor="white",
    annotations=annotations,
    legend=dict(x=px_x(914), y=px_y(62), xanchor="left", yanchor="top",
                bgcolor="rgba(0,0,0,0)", itemwidth=57,
                font=dict(family="Liberation Sans, Arial", size=25, color="black")),
)

fig.write_html("out.html")
